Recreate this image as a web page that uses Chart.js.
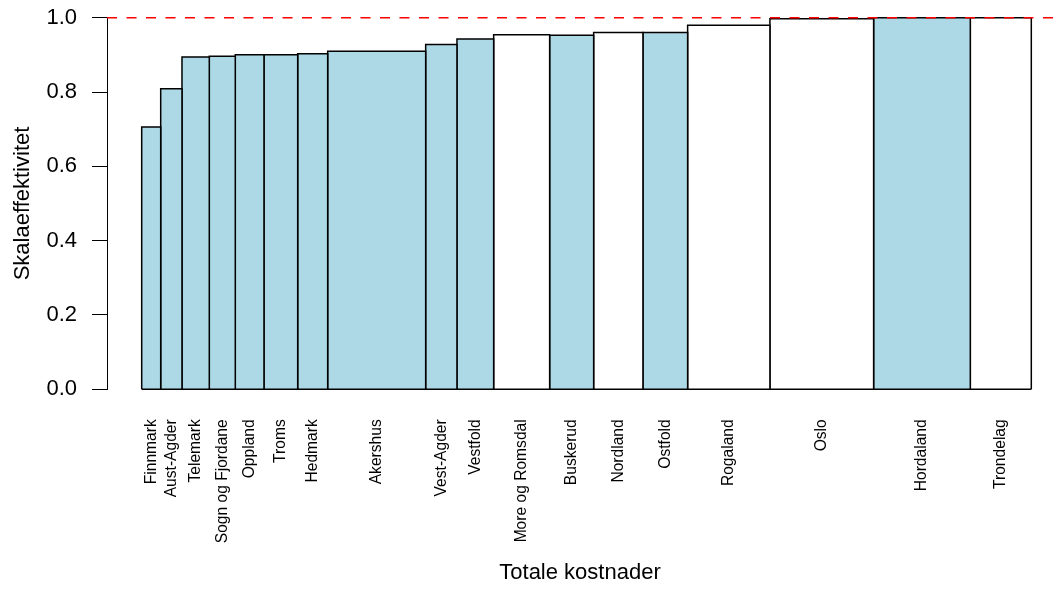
<!DOCTYPE html>
<html>
<head>
<meta charset="utf-8">
<script src="https://cdn.jsdelivr.net/npm/chart.js@4/dist/chart.umd.min.js"></script>
<style>
  html, body { margin: 0; padding: 0; background: #ffffff; }
  #wrap { width: 1059px; height: 590px; }
</style>
</head>
<body>
<div id="wrap"><canvas id="skalaChart"></canvas></div>
<script>
// regions sorted by scale efficiency, bar width = total costs
const regions = ["Finnmark", "Aust-Agder", "Telemark", "Sogn og Fjordane", "Oppland", "Troms",
  "Hedmark", "Akershus", "Vest-Agder", "Vestfold", "More og Romsdal", "Buskerud", "Nordland",
  "Ostfold", "Rogaland", "Oslo", "Hordaland", "Trondelag"];
const costs = [19, 21.3, 27.3, 26, 28.7, 33.7, 30, 98, 31.3, 36.7, 56, 44, 49.3, 44.7, 82.3, 103.7, 96.7, 61];
const efficiency = [0.706, 0.809, 0.894, 0.896, 0.900, 0.900, 0.903, 0.910, 0.928, 0.943,
  0.954, 0.953, 0.960, 0.960, 0.980, 0.997, 1.0, 1.0];
const highlighted = [1, 1, 1, 1, 1, 1, 1, 1, 1, 1, 0, 1, 0, 1, 0, 0, 1, 0];
const yTicks = [0, 0.2, 0.4, 0.6, 0.8, 1.0];
const refLevel = 1.0;

const COLORS = {
  BLUE: "#add8e6",
  WHITE: "#ffffff",
  BORDER: "#000000",
  REF: "#ff0000",
  TEXT: "#000000"
};
const FONT = "'Liberation Sans', Arial, sans-serif";

// cumulative edges of each bar
const edges = [0];
costs.forEach((c) => edges.push(edges[edges.length - 1] + c));
const total = edges[edges.length - 1];
const centers = costs.map((c, i) => edges[i] + c / 2);

const barDatasets = regions.map((name, i) => ({
  label: name,
  data: [
    { x: edges[i], y: 0 },
    { x: edges[i], y: efficiency[i] },
    { x: edges[i + 1], y: efficiency[i] },
    { x: edges[i + 1], y: 0 }
  ],
  borderColor: COLORS.BORDER,
  borderWidth: 1.5,
  backgroundColor: highlighted[i] ? COLORS.BLUE : COLORS.WHITE,
  fill: "origin",
  pointRadius: 0,
  tension: 0,
  borderJoinStyle: "miter",
  clip: false,
  order: 2
}));

const baseline = {
  label: "baseline",
  data: [{ x: 0, y: 0 }, { x: total, y: 0 }],
  borderColor: COLORS.BORDER,
  borderWidth: 1.5,
  pointRadius: 0,
  fill: false,
  clip: false,
  order: 1
};

const xMin = -34.7;
const xMax = total + 21.7;

const refLine = {
  label: "ref",
  data: [{ x: xMin, y: refLevel }, { x: xMax, y: refLevel }],
  borderColor: COLORS.REF,
  borderWidth: 1.5,
  borderDash: [10, 9.5],
  pointRadius: 0,
  fill: false,
  clip: false,
  order: 0
};

new Chart(document.getElementById("skalaChart").getContext("2d"), {
  type: "line",
  data: { datasets: [refLine, baseline].concat(barDatasets) },
  options: {
    responsive: true,
    maintainAspectRatio: false,
    animation: false,
    layout: { padding: { left: 0, right: 6, top: 17.7, bottom: 0 } },
    plugins: {
      legend: { display: false },
      tooltip: { enabled: false }
    },
    scales: {
      x: {
        type: "linear",
        min: xMin,
        max: xMax,
        afterBuildTicks: (scale) => {
          scale.ticks = centers.map((v) => ({ value: v }));
        },
        afterFit: (scale) => {
          scale.height = 590 - 389.3;
          scale.paddingLeft = 0;
          scale.paddingRight = 0;
        },
        ticks: {
          autoSkip: false,
          minRotation: 90,
          maxRotation: 90,
          padding: 30,
          font: { family: FONT, size: 15.6 },
          color: COLORS.TEXT,
          callback: (value, index) => regions[index]
        },
        grid: { display: false, drawTicks: false },
        border: { display: false },
        title: {
          display: true,
          text: "Totale kostnader",
          font: { family: FONT, size: 22 },
          color: COLORS.TEXT,
          padding: { top: 0, bottom: 3.8 }
        }
      },
      y: {
        min: 0,
        max: 1,
        afterBuildTicks: (scale) => {
          scale.ticks = yTicks.map((v) => ({ value: v }));
        },
        afterFit: (scale) => {
          scale.width = 107;
          // tick labels fit inside the layout padding
          scale.paddingTop = 0;
          scale.paddingBottom = 0;
        },
        ticks: {
          padding: 15,
          font: { family: FONT, size: 22 },
          color: COLORS.TEXT,
          callback: (value) => value.toFixed(1)
        },
        grid: {
          drawOnChartArea: false,
          drawTicks: true,
          tickLength: 15,
          color: COLORS.BORDER,
          lineWidth: 1
        },
        border: { color: COLORS.BORDER, width: 1 },
        title: {
          display: true,
          text: "Skalaeffektivitet",
          font: { family: FONT, size: 22 },
          color: COLORS.TEXT,
          padding: { top: 10, bottom: 0 }
        }
      }
    }
  }
});
</script>
</body>
</html>
